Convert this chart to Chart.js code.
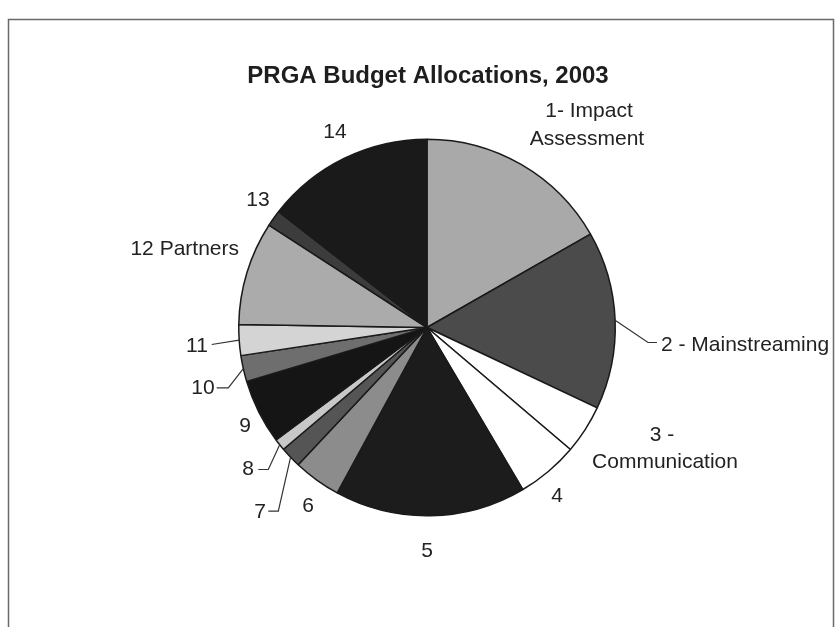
<!DOCTYPE html>
<html>
<head>
<meta charset="utf-8">
<script src="https://cdn.jsdelivr.net/npm/chart.js@4.4.1/dist/chart.umd.min.js"></script>
<style>
  html, body { margin: 0; padding: 0; background: #ffffff; }
  #wrap { width: 840px; height: 627px; position: relative; }
</style>
</head>
<body>
<div id="wrap"><canvas id="c" width="840" height="627"></canvas></div>
<script>
// ---- data ----
const categories = ["1- Impact Assessment", "2 - Mainstreaming", "3 - Communication", "4", "5", "6", "7", "8", "9", "10", "11", "12 Partners", "13", "14"];
const shares = [16.75, 15.28, 4.19, 5.28, 16.42, 4.08, 1.81, 1.00, 5.56, 2.25, 2.64, 8.89, 1.42, 14.44];
const title = "PRGA Budget Allocations, 2003";

// ---- styling ----
const sliceColors = ["#a9a9a9", "#4b4b4b", "#ffffff", "#ffffff", "#1c1c1c", "#8c8c8c", "#555555", "#c8c8c8", "#151515", "#6e6e6e", "#d4d4d4", "#ababab", "#3c3c3c", "#1a1a1a"];

// label layout: text lines, offsets from pie centre, alignment, optional leader elbow points
const labelLayout = [
  { lines: ["1- Impact", "Assessment"], pts: [[162, -216], [160, -188]], align: "center" },
  { lines: ["2 - Mainstreaming"], pts: [[234, 18]], align: "left", leader: [[221, 15], [230, 15]] },
  { lines: ["3 -", "Communication"], pts: [[235, 108], [238, 135]], align: "center" },
  { lines: ["4"], pts: [[130, 169]], align: "center" },
  { lines: ["5"], pts: [[0, 224]], align: "center" },
  { lines: ["6"], pts: [[-119, 179]], align: "center" },
  { lines: ["7"], pts: [[-167, 185]], align: "center", leader: [[-148.7, 183.7], [-158.7, 183.7]] },
  { lines: ["8"], pts: [[-179, 142]], align: "center", leader: [[-158.7, 142], [-168.7, 142]] },
  { lines: ["9"], pts: [[-182, 99]], align: "center" },
  { lines: ["10"], pts: [[-224, 61]], align: "center", leader: [[-198.7, 60.3], [-210.3, 60.3]] },
  { lines: ["11"], pts: [[-230, 19]], align: "center", leader: [[-215.3, 17]] },
  { lines: ["12 Partners"], pts: [[-188, -78]], align: "right" },
  { lines: ["13"], pts: [[-169, -127]], align: "center" },
  { lines: ["14"], pts: [[-92, -195]], align: "center" }
];

const framePlugin = {
  id: "frame",
  beforeDraw(chart) {
    const ctx = chart.ctx;
    ctx.save();
    ctx.fillStyle = "#ffffff";
    ctx.fillRect(0, 0, chart.width, chart.height);
    ctx.strokeStyle = "#6a6a6a";
    ctx.lineWidth = 1.5;
    ctx.strokeRect(8.5, 19.5, 825, 640);
    ctx.fillStyle = "#1e1e1e";
    ctx.font = "bold 24px 'Liberation Sans', Arial, sans-serif";
    ctx.textAlign = "center";
    ctx.textBaseline = "middle";
    ctx.fillText(title, 428, 76);
    ctx.restore();
  }
};

const labelPlugin = {
  id: "sliceLabels",
  afterDraw(chart) {
    const ctx = chart.ctx;
    const meta = chart.getDatasetMeta(0);
    ctx.save();
    ctx.font = "21px 'Liberation Sans', Arial, sans-serif";
    ctx.fillStyle = "#222222";
    ctx.strokeStyle = "#333333";
    ctx.lineWidth = 1.2;
    ctx.textBaseline = "middle";
    meta.data.forEach((arc, i) => {
      const p = arc.getProps(["x", "y", "startAngle", "endAngle", "outerRadius"], true);
      const cx = p.x, cy = p.y;
      const lay = labelLayout[i];
      if (!lay) return;
      if (lay.leader) {
        const mid = (p.startAngle + p.endAngle) / 2;
        ctx.beginPath();
        ctx.moveTo(cx + Math.cos(mid) * p.outerRadius, cy + Math.sin(mid) * p.outerRadius);
        lay.leader.forEach(pt => ctx.lineTo(cx + pt[0], cy + pt[1]));
        ctx.stroke();
      }
      ctx.textAlign = lay.align;
      lay.lines.forEach((txt, k) => {
        ctx.fillText(txt, cx + lay.pts[k][0], cy + lay.pts[k][1]);
      });
    });
    ctx.restore();
  }
};

new Chart(document.getElementById("c"), {
  type: "pie",
  data: {
    labels: categories,
    datasets: [{
      data: shares,
      backgroundColor: sliceColors,
      borderColor: "#1a1a1a",
      borderWidth: 1.5
    }]
  },
  options: {
    responsive: false,
    animation: false,
    layout: { padding: { left: 238, right: 224, top: 138, bottom: 110 } },
    plugins: {
      legend: { display: false },
      tooltip: { enabled: false },
      title: { display: false }
    }
  },
  plugins: [framePlugin, labelPlugin]
});
</script>
</body>
</html>
